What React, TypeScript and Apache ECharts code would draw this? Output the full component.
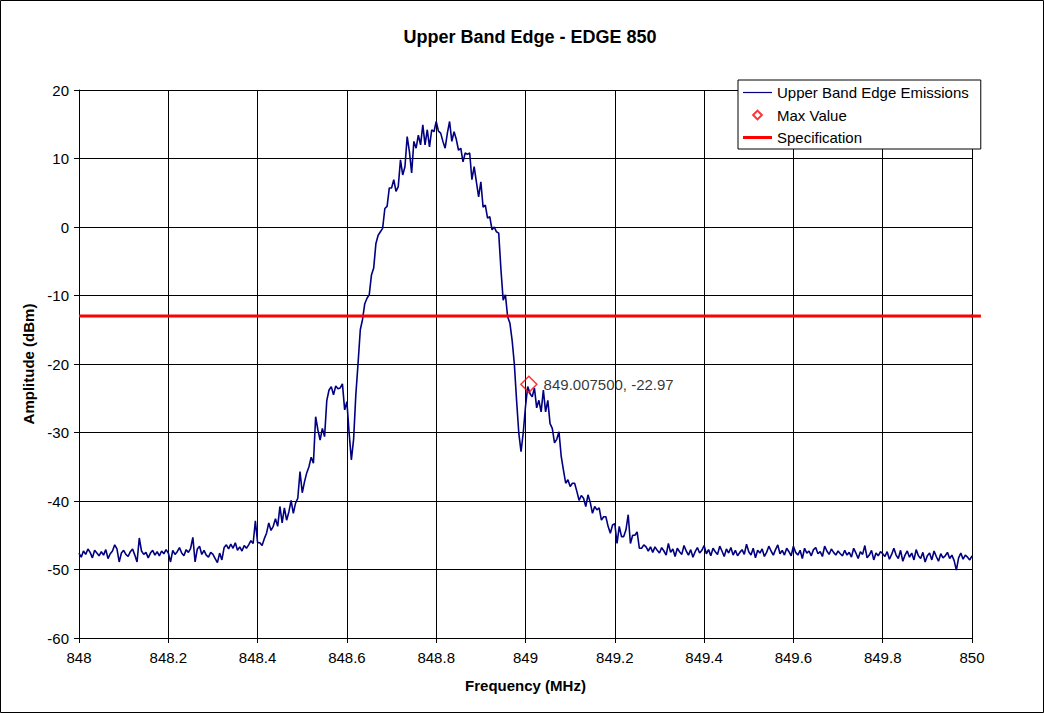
import React, { useEffect, useRef } from "react";
import * as echarts from "echarts";

const FREQ_START = 848;
const FREQ_STEP = 0.005;

// Amplitude (dBm) sampled every 0.005 MHz from 848.000 to 850.000
const amplitude: number[] = [
  // 848.00 - 848.095
  -47.6, -48.2, -47.3, -47.8, -47.0, -47.5, -48.3, -47.2, -47.6, -48.0, -47.4, -47.9, -47.1, -48.4, -47.7, -47.3, -46.4, -47.0, -48.9, -47.6,
  // 848.10
  -47.2, -47.8, -48.1, -47.4, -47.0, -47.9, -48.9, -45.4, -47.3, -47.8, -47.5, -48.3, -47.6, -47.2, -47.9, -47.4, -48.0, -47.3, -47.7, -47.1,
  // 848.20
  -47.6, -48.9, -47.2, -47.8, -47.4, -46.8, -47.6, -48.0, -47.1, -47.5, -46.9, -45.3, -48.9, -47.0, -46.6, -47.8, -47.2, -47.9, -48.2, -47.5,
  // 848.30
  -47.8, -48.4, -49.0, -47.6, -48.6, -46.8, -46.4, -47.0, -46.3, -46.9, -46.1, -47.2, -46.7, -47.3, -46.5, -46.9, -46.4, -45.8, -46.2, -42.9,
  // 848.40
  -46.1, -46.1, -46.5, -45.5, -44.7, -43.2, -44.3, -43.7, -42.6, -43.7, -40.8, -43.2, -41.0, -42.8, -41.6, -39.9, -41.8, -40.3, -39.6, -35.7,
  // 848.50
  -38.8, -37.2, -35.9, -35.0, -33.6, -34.5, -27.7, -29.6, -31.1, -29.4, -30.6, -25.3, -23.8, -23.3, -24.5, -23.2, -23.6, -23.5, -22.9, -26.7,
  // 848.60
  -25.5, -30.1, -34.0, -31.0, -24.5, -19.9, -15.0, -13.5, -11.2, -10.4, -9.9, -7.0, -6.0, -2.4, -1.2, -0.7, -0.2, 2.7, 3.0, 5.7,
  // 848.70
  5.7, 6.9, 5.2, 5.9, 9.8, 7.6, 8.8, 13.2, 11.0, 7.9, 12.5, 11.5, 13.4, 12.0, 14.9, 12.0, 14.2, 11.7, 14.2, 13.9,
  // 848.80
  15.4, 14.0, 13.7, 12.5, 11.5, 13.7, 15.4, 12.5, 13.9, 12.8, 11.2, 11.5, 9.5, 10.8, 10.6, 10.8, 6.9, 8.8, 6.6, 4.4,
  // 848.90
  6.6, 2.9, 3.2, 1.3, 1.5, -0.4, 0.0, -0.7, -0.9, -6.2, -10.7, -9.9, -13.1, -14.0, -16.5, -20.0, -25.3, -30.1, -32.8, -30.0,
  // 849.00
  -26.2, -23.3, -24.3, -24.8, -23.5, -26.4, -25.3, -27.0, -23.8, -27.0, -25.3, -28.7, -29.4, -31.5, -31.0, -29.9, -33.5, -35.5, -37.4, -36.9,
  // 849.10
  -37.9, -37.4, -37.4, -38.6, -39.9, -39.2, -39.6, -40.8, -39.1, -40.2, -41.8, -40.8, -41.3, -41.0, -42.8, -42.3, -42.3, -43.7, -44.7, -43.5,
  // 849.20
  -43.3, -46.2, -43.7, -45.2, -45.2, -44.2, -42.0, -46.2, -45.0, -45.0, -44.5, -46.9, -46.9, -46.4, -46.7, -47.3, -46.7, -47.5, -46.7, -47.2,
  // 849.30
  -47.6, -46.8, -47.3, -47.9, -46.2, -47.5, -47.0, -48.1, -46.9, -47.4, -47.8, -46.5, -47.3, -47.9, -47.1, -48.2, -47.4, -46.8, -47.6, -47.2,
  // 849.40
  -46.5, -47.7, -47.1, -48.0, -46.9, -47.4, -47.8, -46.6, -47.3, -48.1, -47.0, -47.6, -46.8, -47.9, -47.2, -48.0, -47.5, -47.1, -47.8, -46.3,
  // 849.50
  -47.4, -47.9, -46.9, -48.3, -47.2, -47.6, -47.0, -48.1, -47.5, -46.6, -47.3, -47.9, -47.1, -46.4, -47.7, -47.2, -47.9, -46.9, -47.4, -48.0,
  // 849.60
  -46.6, -47.5, -47.9, -47.2, -48.4, -46.9, -47.6, -47.3, -48.0, -47.1, -46.8, -47.7, -47.4, -48.1, -46.6, -47.3, -47.8, -47.0, -47.5, -47.9,
  // 849.70
  -47.3, -47.7, -48.0, -47.2, -47.9, -47.5, -48.2, -46.9, -47.6, -48.4, -47.4, -47.8, -46.5, -48.3, -47.9, -47.2, -48.6, -47.6, -48.0, -47.4,
  // 849.80
  -47.7, -48.1, -47.4, -48.5, -47.8, -46.9, -47.9, -48.4, -47.2, -48.8, -47.9, -47.3, -48.2, -47.6, -48.6, -47.1, -48.0, -48.4, -47.5, -48.9,
  // 849.90
  -48.0, -47.6, -48.6, -47.3, -48.1, -48.8, -47.7, -48.3, -48.0, -47.5, -48.4, -47.9, -48.7, -50.1, -48.3, -47.6, -48.5, -47.9, -48.2, -48.6,
  // 850.00
  -48.0,
];

const maxPoint: [number, number] = [849.0075, -22.97];
const specLevel = -13;
const specFreqs = [848, 850];
const specOverrunFreq = 850.02;

const xTicks = { min: 848, max: 850, interval: 0.2 };
const yTicks = { min: -60, max: 20, interval: 10 };

const FONT = "'Liberation Sans', Arial, sans-serif";

export default function App() {
  const ref = useRef<HTMLDivElement>(null);

  useEffect(() => {
    if (!ref.current) return;
    const chart = echarts.init(ref.current, undefined, { renderer: "svg" });

    const traceData = amplitude.map((v, i) => [
      Math.round((FREQ_START + i * FREQ_STEP) * 10000) / 10000,
      v,
    ]);
    const specData = specFreqs.map((f) => [f, specLevel]);

    const frame = {
      type: "rect",
      shape: { x: 0.5, y: 0.5, width: 1043, height: 712 },
      style: { fill: "none", stroke: "#000", lineWidth: 1 },
      silent: true,
      z: -1,
    };

    chart.setOption({
      animation: false,
      backgroundColor: "#ffffff",
      textStyle: { fontFamily: FONT },
      title: {
        text: "Upper Band Edge - EDGE 850",
        left: 530,
        top: 28,
        textAlign: "center",
        padding: 0,
        textStyle: { fontFamily: FONT, fontSize: 18, fontWeight: "bold", color: "#000" },
      },
      graphic: [frame],
      legend: {
        left: 738,
        top: 80,
        orient: "vertical",
        padding: [5, 12, 4, 5],
        itemGap: 7,
        itemWidth: 29,
        itemHeight: 14,
        backgroundColor: "#ffffff",
        borderColor: "#000",
        borderWidth: 1,
        textStyle: { fontFamily: FONT, fontSize: 15, color: "#000" },
        data: [
          {
            name: "Upper Band Edge Emissions",
            icon: "path://M0,0 M29,14 M0,6.4 L29,6.4 L29,7.6 L0,7.6 Z",
            itemStyle: { color: "#000080", borderWidth: 0 },
          },
          { name: "Max Value", icon: "path://M0,0 M16,16 M8,3 L13,8 L8,13 L3,8 Z" },
          {
            name: "Specification",
            icon: "path://M0,0 M29,14 M0,5.5 L29,5.5 L29,8.5 L0,8.5 Z",
            itemStyle: { color: "#ff0000", borderWidth: 0 },
          },
        ],
        selectedMode: false,
      },
      grid: { left: 79, top: 90, width: 893, height: 548, containLabel: false },
      xAxis: {
        type: "value",
        min: xTicks.min,
        max: xTicks.max,
        interval: xTicks.interval,
        name: "Frequency (MHz)",
        nameLocation: "middle",
        nameGap: 40,
        nameTextStyle: { fontFamily: FONT, fontSize: 15, fontWeight: "bold", color: "#000" },
        axisLine: { show: true, onZero: false, lineStyle: { color: "#000", width: 1 } },
        axisTick: { show: true, inside: false, length: 5, lineStyle: { color: "#000" } },
        axisLabel: { fontFamily: FONT, fontSize: 15, color: "#000", margin: 12 },
        splitLine: { show: true, lineStyle: { color: "#000", width: 1 } },
      },
      yAxis: {
        type: "value",
        min: yTicks.min,
        max: yTicks.max,
        interval: yTicks.interval,
        name: "Amplitude (dBm)",
        nameLocation: "middle",
        nameGap: 41,
        nameTextStyle: { fontFamily: FONT, fontSize: 15, fontWeight: "bold", color: "#000" },
        axisLine: { show: true, onZero: false, lineStyle: { color: "#000", width: 1 } },
        axisTick: { show: true, inside: false, length: 5, lineStyle: { color: "#000" } },
        axisLabel: { fontFamily: FONT, fontSize: 15, color: "#000", margin: 10 },
        splitLine: { show: true, lineStyle: { color: "#000", width: 1 } },
      },
      series: [
        {
          name: "Upper Band Edge Emissions",
          type: "line",
          data: traceData,
          symbol: "none",
          color: "#000080",
          lineStyle: { color: "#000080", width: 1.6 },
          z: 2,
        },
        {
          name: "Max Value",
          type: "scatter",
          data: [maxPoint],
          symbol: "diamond",
          symbolSize: 16,
          color: "#ff0000",
          itemStyle: { color: "rgba(255,255,255,0)", borderColor: "#ff0000", borderWidth: 1.5 },
          label: {
            show: true,
            position: "right",
            distance: 6,
            fontFamily: FONT,
            fontSize: 15,
            color: "#000000",
            textBorderWidth: 0,
            formatter: () => `${maxPoint[0].toFixed(6)}, ${maxPoint[1]}`,
          },
          z: 4,
        },
        {
          name: "Specification",
          type: "line",
          data: specData,
          symbol: "none",
          color: "#ff0000",
          lineStyle: { color: "#ff0000", width: 3 },
          z: 3,
        },
      ],
    });

    // Excel draws the specification line slightly past the plot edge
    const p1 = chart.convertToPixel({ gridIndex: 0 }, [specFreqs[1], specLevel]) as number[];
    const p2 = chart.convertToPixel({ gridIndex: 0 }, [specOverrunFreq, specLevel]) as number[];
    if (p1 && p2) {
      chart.setOption({
        graphic: [
          frame,
          {
            type: "line",
            shape: { x1: p1[0] - 1, y1: p1[1], x2: p2[0], y2: p2[1] },
            style: { stroke: "#ff0000", lineWidth: 3 },
            silent: true,
            z: 3,
          },
        ],
      });
    }

    return () => chart.dispose();
  }, []);

  return (
    <div
      ref={ref}
      style={{ position: "absolute", left: 0, top: 0, width: 1044, height: 713 }}
    />
  );
}
